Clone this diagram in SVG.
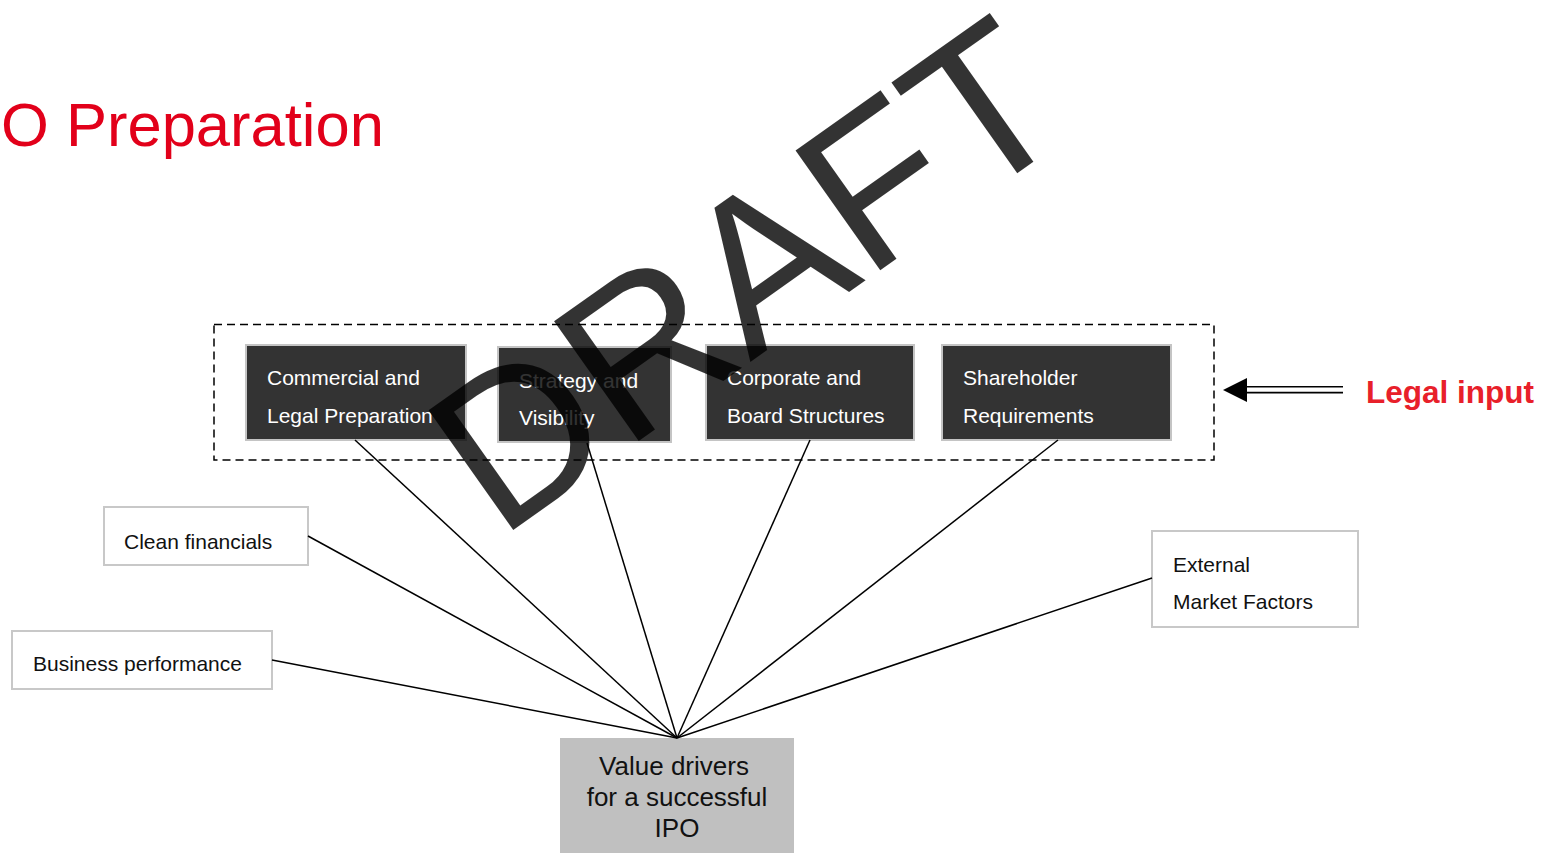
<svg xmlns="http://www.w3.org/2000/svg" width="1545" height="853" viewBox="0 0 1545 853">
<defs>
<style>
text{font-family:"Liberation Sans",Arial,sans-serif}
.dk{fill:#333333;stroke:#c4c4c4;stroke-width:2}
.dkt{fill:#ffffff;font-size:21px}
.wb{fill:#ffffff;stroke:#c8c8c8;stroke-width:2}
.wbt{fill:#111111;font-size:21px}
.con{stroke:#000000;stroke-width:1.5;fill:none}
</style>
</defs>
<rect width="1545" height="853" fill="#ffffff"/>
<text id="title" x="1" y="146" font-size="61.5" fill="#e2001a">O Preparation</text>
<rect id="group-frame" x="214" y="324.5" width="1000" height="135.5" fill="none" stroke="#000" stroke-width="1.5" stroke-dasharray="8,5"/>
<g id="node-commercial">
<rect class="dk" x="246" y="345" width="220" height="95"/>
<text class="dkt" x="267" y="385">Commercial and</text>
<text class="dkt" x="267" y="423">Legal Preparation</text>
</g>
<g id="node-strategy">
<rect class="dk" x="498" y="347" width="173" height="95"/>
<text class="dkt" x="519" y="388">Strategy and</text>
<text class="dkt" x="519" y="425">Visibility</text>
</g>
<g id="node-corporate">
<rect class="dk" x="706" y="345" width="208" height="95"/>
<text class="dkt" x="727" y="385">Corporate and</text>
<text class="dkt" x="727" y="423">Board Structures</text>
</g>
<g id="node-shareholder">
<rect class="dk" x="942" y="345" width="229" height="95"/>
<text class="dkt" x="963" y="385">Shareholder</text>
<text class="dkt" x="963" y="423">Requirements</text>
</g>
<g id="node-clean">
<rect class="wb" x="104" y="507" width="204" height="58"/>
<text class="wbt" x="124" y="549">Clean financials</text>
</g>
<g id="node-business">
<rect class="wb" x="12" y="631" width="260" height="58"/>
<text class="wbt" x="33" y="671">Business performance</text>
</g>
<g id="node-external">
<rect class="wb" x="1152" y="531" width="206" height="96"/>
<text class="wbt" x="1173" y="572">External</text>
<text class="wbt" x="1173" y="609">Market Factors</text>
</g>
<g id="node-value">
<rect x="560" y="738" width="234" height="120" fill="#c0c0c0"/>
<text x="674" y="775" font-size="26" fill="#111" text-anchor="middle">Value drivers</text>
<text x="677" y="806" font-size="26" fill="#111" text-anchor="middle">for a successful</text>
<text x="677" y="837" font-size="26" fill="#111" text-anchor="middle">IPO</text>
</g>
<g id="node-legal">
<text x="1366" y="403" font-size="31.5" font-weight="bold" fill="#e8202a">Legal input</text>
</g>
<g id="connectors">
<line class="con" x1="355" y1="440" x2="677" y2="738"/>
<line class="con" x1="587" y1="443" x2="677" y2="738"/>
<line class="con" x1="810" y1="440" x2="677" y2="738"/>
<line class="con" x1="1058" y1="440" x2="677" y2="738"/>
<line class="con" x1="308" y1="536" x2="677" y2="738"/>
<line class="con" x1="272" y1="660" x2="677" y2="738"/>
<line class="con" x1="1152" y1="578" x2="677" y2="738"/>
<g id="legal-arrow">
<line x1="1343" y1="386.8" x2="1244" y2="386.8" stroke="#000" stroke-width="1.6"/>
<line x1="1343" y1="392.6" x2="1244" y2="392.6" stroke="#000" stroke-width="1.6"/>
<path d="M1223,390 L1247,378 L1247,402 Z" fill="#000"/>
</g>
</g>
<text id="watermark" transform="translate(499,540) rotate(-35.3)" font-size="213" fill="#000" fill-opacity="0.8">DRAFT</text>
</svg>
